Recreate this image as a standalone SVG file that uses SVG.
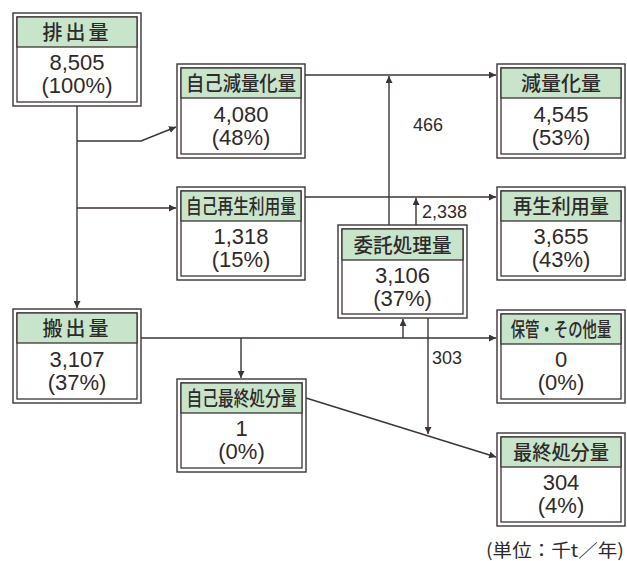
<svg xmlns="http://www.w3.org/2000/svg" width="627" height="561" viewBox="0 0 627 561">
<style>
.o{fill:#fff;stroke:#3d3535;stroke-width:1.4}
.i{fill:#fff;stroke:#3d3535;stroke-width:1.3}
.h{fill:#c8e5cb;stroke:#3d3535;stroke-width:1.3}
.ht{font-family:"Noto Sans CJK JP","Noto Sans CJK SC",sans-serif;font-size:20px;font-weight:500;fill:#2f2a2a;text-anchor:middle}
.nt{font-family:"Liberation Sans",Arial,sans-serif;font-size:22px;fill:#2f2a2a;text-anchor:middle}
.lb{font-family:"Liberation Sans",Arial,sans-serif;font-size:18px;fill:#2f2a2a}
.c{fill:none;stroke:#3d3535;stroke-width:1.4}
.u{font-family:"Noto Sans CJK JP",sans-serif;font-size:18px;fill:#2f2a2a}
</style>
<defs>
<marker id="a" viewBox="0 0 10 10" refX="10" refY="5" markerWidth="7" markerHeight="7" markerUnits="userSpaceOnUse" orient="auto"><path d="M0,0L10,5L0,10z" fill="#3d3535"/></marker>
</defs>
<g id="connectors">
<path class="c" d="M77,106V308" marker-end="url(#a)"/>
<path class="c" d="M77,141H141L176,127" marker-end="url(#a)"/>
<path class="c" d="M77,208H176" marker-end="url(#a)"/>
<path class="c" d="M305,75H496" marker-end="url(#a)"/>
<path class="c" d="M389,225V76" marker-end="url(#a)"/>
<path class="c" d="M305,197H496" marker-end="url(#a)"/>
<path class="c" d="M416,225V198" marker-end="url(#a)"/>
<path class="c" d="M141,338H496" marker-end="url(#a)"/>
<path class="c" d="M241,338V378" marker-end="url(#a)"/>
<path class="c" d="M403,338V319" marker-end="url(#a)"/>
<path class="c" d="M428,318V434" marker-end="url(#a)"/>
<path class="c" d="M306,398L496,457" marker-end="url(#a)"/>
<text class="lb" x="413" y="131">466</text>
<text class="lb" x="422" y="218">2,338</text>
<text class="lb" x="432" y="364">303</text>
</g>
<g id="n1" transform="translate(13,13)">
<rect class="o" x="0" y="0" width="128" height="93"/><rect class="i" x="4" y="4" width="120" height="85"/><rect class="h" x="4" y="4" width="120" height="30"/>
<text class="ht" x="64" y="27" letter-spacing="3">排出量</text>
<text class="nt" x="64" y="57">8,505</text><text class="nt" x="64" y="80">(100%)</text>
</g>
<g id="n2" transform="translate(177,64)">
<rect class="o" x="0" y="0" width="128" height="94"/><rect class="i" x="4" y="4" width="120" height="86"/><rect class="h" x="4" y="4" width="120" height="30"/>
<text class="ht" x="64" y="27" textLength="110" lengthAdjust="spacingAndGlyphs">自己減量化量</text>
<text class="nt" x="64" y="58">4,080</text><text class="nt" x="64" y="81">(48%)</text>
</g>
<g id="n3" transform="translate(497,64)">
<rect class="o" x="0" y="0" width="128" height="94"/><rect class="i" x="4" y="4" width="120" height="86"/><rect class="h" x="4" y="4" width="120" height="30"/>
<text class="ht" x="64" y="27">減量化量</text>
<text class="nt" x="64" y="58">4,545</text><text class="nt" x="64" y="81">(53%)</text>
</g>
<g id="n4" transform="translate(177,187)">
<rect class="o" x="0" y="0" width="128" height="93"/><rect class="i" x="4" y="4" width="120" height="85"/><rect class="h" x="4" y="4" width="120" height="30"/>
<text class="ht" x="64" y="27" textLength="110" lengthAdjust="spacingAndGlyphs">自己再生利用量</text>
<text class="nt" x="64" y="57">1,318</text><text class="nt" x="64" y="80">(15%)</text>
</g>
<g id="n5" transform="translate(497,187)">
<rect class="o" x="0" y="0" width="128" height="93"/><rect class="i" x="4" y="4" width="120" height="85"/><rect class="h" x="4" y="4" width="120" height="30"/>
<text class="ht" x="64" y="27" textLength="96" lengthAdjust="spacingAndGlyphs">再生利用量</text>
<text class="nt" x="64" y="57">3,655</text><text class="nt" x="64" y="80">(43%)</text>
</g>
<g id="n6" transform="translate(338,225)">
<rect class="o" x="0" y="0" width="129" height="93"/><rect class="i" x="4" y="4" width="121" height="85"/><rect class="h" x="4" y="4" width="121" height="31"/>
<text class="ht" x="64.5" y="28" textLength="98" lengthAdjust="spacingAndGlyphs">委託処理量</text>
<text class="nt" x="64.5" y="58">3,106</text><text class="nt" x="64.5" y="81">(37%)</text>
</g>
<g id="n7" transform="translate(13,309)">
<rect class="o" x="0" y="0" width="128" height="94"/><rect class="i" x="4" y="4" width="120" height="86"/><rect class="h" x="4" y="4" width="120" height="30"/>
<text class="ht" x="64" y="27" letter-spacing="3">搬出量</text>
<text class="nt" x="64" y="58">3,107</text><text class="nt" x="64" y="81">(37%)</text>
</g>
<g id="n8" transform="translate(497,310)">
<rect class="o" x="0" y="0" width="128" height="93"/><rect class="i" x="4" y="4" width="120" height="85"/><rect class="h" x="4" y="4" width="120" height="30"/>
<text class="ht" transform="translate(64,27) scale(0.72,1)" x="0" y="0">保管・その他量</text>
<text class="nt" x="64" y="57">0</text><text class="nt" x="64" y="80">(0%)</text>
</g>
<g id="n9" transform="translate(177,379)">
<rect class="o" x="0" y="0" width="129" height="93"/><rect class="i" x="4" y="4" width="121" height="85"/><rect class="h" x="4" y="4" width="121" height="30"/>
<text class="ht" x="64.5" y="27" textLength="110" lengthAdjust="spacingAndGlyphs">自己最終処分量</text>
<text class="nt" x="64.5" y="57">1</text><text class="nt" x="64.5" y="80">(0%)</text>
</g>
<g id="n10" transform="translate(497,433)">
<rect class="o" x="0" y="0" width="128" height="93"/><rect class="i" x="4" y="4" width="120" height="85"/><rect class="h" x="4" y="4" width="120" height="30"/>
<text class="ht" x="64" y="27" textLength="96" lengthAdjust="spacingAndGlyphs">最終処分量</text>
<text class="nt" x="64" y="57">304</text><text class="nt" x="64" y="80">(4%)</text>
</g>
<text class="u" x="486" y="557" textLength="138" lengthAdjust="spacingAndGlyphs">(単位：千t／年)</text>
</svg>
